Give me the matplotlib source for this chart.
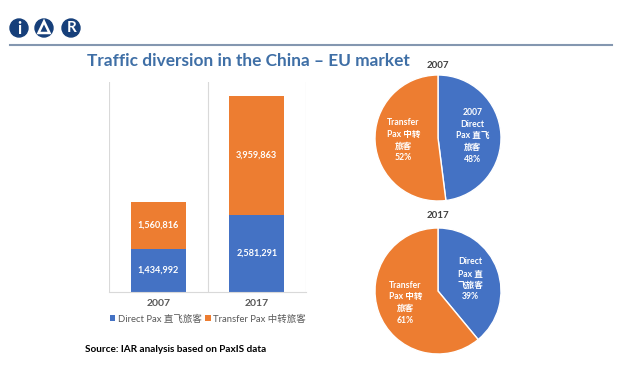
import numpy as np
import matplotlib
matplotlib.use("Agg")
import matplotlib.pyplot as plt
from matplotlib.patches import Circle, Polygon

plt.rcParams['font.family'] = ['Lato', 'Noto Sans CJK SC', 'DejaVu Sans']

years = ['2007', '2017']
direct = [1434992, 2581291]
transfer = [1560816, 3959863]
series_names = ['Direct Pax 直飞旅客', 'Transfer Pax 中转旅客']
pie_pcts = [[48, 52], [39, 61]]
pie_labels = [['2007\nDirect\nPax 直飞\n旅客', 'Transfer\nPax 中转\n旅客'],
              ['Direct\nPax 直\n飞旅客', 'Transfer\nPax 中转\n旅客']]
title = 'Traffic diversion in the China – EU market'
source = 'Source: IAR analysis based on PaxIS data'

BLUE = '#4472C4'
ORANGE = '#ED7D31'
W, H = 638, 376


def rect(x0, y0, x1, y1):
    # pixel box (top-left origin) -> figure fraction rect
    return [x0 / W, 1 - y1 / H, (x1 - x0) / W, (y1 - y0) / H]


fig = plt.figure(figsize=(W / 100, H / 100), dpi=100)
fig.patch.set_facecolor('white')

# decorations layer in pixel coordinates
deco = fig.add_axes([0, 0, 1, 1], zorder=0)
deco.set_xlim(0, W)
deco.set_ylim(H, 0)
deco.axis('off')
logo_blue = '#163f7a'
for cx in [19, 44, 71]:
    deco.add_patch(Circle((cx, 28), 9, color=logo_blue))
deco.text(19, 29.5, 'i', color='white', fontsize=12, fontweight='bold',
          ha='center', va='center')
deco.add_patch(Polygon([[44, 21.5], [38.5, 33], [49.5, 33]], closed=True,
                       fill=False, ec='white', lw=1.8))
deco.text(71.5, 28.5, 'R', color='white', fontsize=11, fontweight='bold',
          ha='center', va='center')
deco.plot([10, 612], [44.5, 44.5], color='#8497b0', lw=1.5)
deco.text(87, 61.5, title, color='#3f6fa6', fontsize=12.4, fontweight='bold',
          ha='left', va='center')
deco.text(85, 350, source, color='black', fontsize=7.2, fontweight='bold',
          ha='left', va='center')

# stacked bars
ax = fig.add_axes(rect(109, 82, 306, 292), zorder=1)
ax.patch.set_alpha(0)
x = np.arange(len(years))
b1 = ax.bar(x, direct, width=0.56, color=BLUE, label=series_names[0])
b2 = ax.bar(x, transfer, width=0.56, bottom=direct, color=ORANGE,
            label=series_names[1])
for bars in (b1, b2):
    ax.bar_label(bars, labels=[f'{v:,}' for v in bars.datavalues],
                 label_type='center', color='white', fontsize=6.6,
                 fontweight='bold')
ax.set_xlim(-0.5, 1.5)
ax.set_ylim(0, 7000000)
for xv in [-0.5, 0.5, 1.5]:
    ax.axvline(xv, color='#d9d9d9', lw=0.8, zorder=0)
for s in ['top', 'right', 'left']:
    ax.spines[s].set_visible(False)
ax.spines['bottom'].set_color('#d9d9d9')
ax.set_yticks([])
ax.set_xticks(x)
ax.set_xticklabels(years, fontsize=7.5, fontweight='bold', color='#595959')
ax.tick_params(axis='x', length=0, pad=5)
ax.legend(loc='center', bbox_to_anchor=(208 / W, 1 - 319 / H),
          bbox_transform=fig.transFigure, ncol=2, frameon=False,
          fontsize=6.8, labelcolor='#595959', handlelength=0.55,
          handleheight=0.55, handletextpad=0.3, columnspacing=0.4)

# pies
centers = [(438, 138), (438, 291)]
pie_titles_y = [66, 216]
r = 63
for i, (cx, cy) in enumerate(centers):
    pax = fig.add_axes(rect(cx - r, cy - r, cx + r, cy + r), zorder=1)
    wedges, _ = pax.pie(pie_pcts[i], colors=[BLUE, ORANGE], startangle=90,
                        counterclock=False,
                        wedgeprops=dict(edgecolor='white', linewidth=1))
    pax.set_xlim(-1, 1)
    pax.set_ylim(-1, 1)
    pax.set_aspect('equal')
    for w, lab, p in zip(wedges, pie_labels[i], pie_pcts[i]):
        ang = np.deg2rad((w.theta1 + w.theta2) / 2)
        pax.text(0.55 * np.cos(ang), 0.55 * np.sin(ang), f'{lab}\n{p}%',
                 ha='center', va='center', color='white', fontsize=6.2,
                 fontweight='bold', linespacing=1.4)
    deco.text(cx, pie_titles_y[i], years[i], ha='center', va='center',
              fontsize=7, fontweight='bold', color='#404040')

fig.savefig('out.png', dpi=100)
